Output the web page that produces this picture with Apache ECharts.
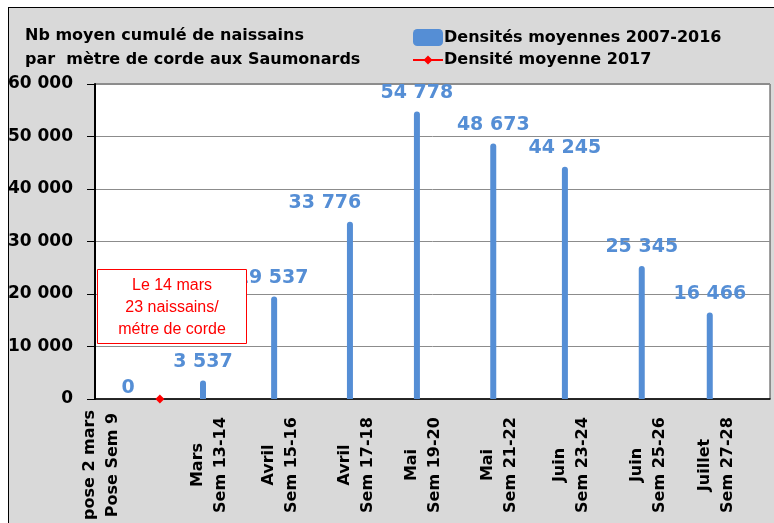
<!DOCTYPE html>
<html>
<head>
<meta charset="utf-8">
<script src="https://cdn.jsdelivr.net/npm/echarts@6/dist/echarts.min.js"></script>
<style>
  html, body { margin: 0; padding: 0; background: #fff; overflow: hidden; }
  #fond { position: absolute; left: 8px; top: 7px; width: 780px; height: 530px;
          background: #d9d9d9; border: 1px solid #000; }
  #main { position: absolute; left: 0; top: 0; width: 774px; height: 523px; }
</style>
</head>
<body>
<div id="fond"></div>
<div id="main"></div>
<script>
// étiquettes de l'axe des x (périodes)
var periodes = [
  'pose 2 mars\nPose Sem 9',
  'Mars\nSem 13-14',
  'Avril\nSem 15-16',
  'Avril\nSem 17-18',
  'Mai\nSem 19-20',
  'Mai\nSem 21-22',
  'Juin\nSem 23-24',
  'Juin\nSem 25-26',
  'Juillet\nSem 27-28'
];
// position des étiquettes sur l'axe (jours depuis l'origine de l'axe)
var joursEtiquettes = [1.2, 22, 35.7, 50.3, 63.2, 77.9, 91.7, 106.5, 119.6];
// position des barres (jours)
var joursMoyennes = [6.4, 20.8, 34.5, 49.1, 62, 76.7, 90.5, 105.3, 118.4];
// Densités moyennes 2007-2016
var moyennes = [0, 3537, 19537, 33776, 54778, 48673, 44245, 25345, 16466];
// Densité moyenne 2017 (14 mars)
var jours2017 = [12.5];
var valeurs2017 = [23];

var fontTxt = 'DejaVu Sans';
var bleu = '#558ed5';

function espaceMilliers(v) {
  return String(Math.round(v)).replace(/\B(?=(\d{3})+(?!\d))/g, ' ');
}

var myChart = echarts.init(document.getElementById('main'));
var option;

option = {
  backgroundColor: 'transparent',
  animation: false,
  title: {
    text: 'Nb moyen cumulé de naissains\npar  mètre de corde aux Saumonards',
    left: 20,
    top: 19,
    textStyle: {
      fontFamily: fontTxt,
      fontSize: 16,
      fontWeight: 'bold',
      color: '#000',
      lineHeight: 24
    }
  },
  legend: {
    orient: 'vertical',
    left: 408,
    top: 24,
    itemWidth: 30,
    itemHeight: 17,
    itemGap: 6,
    textStyle: {
      fontFamily: fontTxt,
      fontSize: 16,
      fontWeight: 'bold',
      color: '#000',
      padding: [0, 0, 0, -4]
    },
    data: [
      { name: 'Densités moyennes 2007-2016', icon: 'roundRect' },
      {
        name: 'Densité moyenne 2017',
        // trait rouge + petit losange
        icon: 'path://M0,3.4L30,3.4L30,5.6L0,5.6Z M15,0L19.5,4.5L15,9L10.5,4.5Z'
      }
    ]
  },
  grid: {
    left: 95,
    right: 4,
    top: 84,
    bottom: 123,
    show: true,
    backgroundColor: '#fff',
    borderColor: '#404040',
    borderWidth: 1
  },
  xAxis: {
    type: 'value',
    min: 0,
    max: 130,
    splitLine: { show: false },
    axisLine: { lineStyle: { color: '#000', width: 1.5 } },
    axisTick: { show: false },
    axisLabel: {
      customValues: joursEtiquettes,
      rotate: 90,
      align: 'center',
      verticalAlign: 'middle',
      margin: 66,
      lineHeight: 23,
      fontFamily: fontTxt,
      fontSize: 16,
      fontWeight: 'bold',
      color: '#000',
      formatter: function (v) {
        var i = joursEtiquettes.indexOf(v);
        return i >= 0 ? periodes[i] : '';
      }
    }
  },
  yAxis: {
    type: 'value',
    min: 0,
    max: 60000,
    interval: 10000,
    axisLine: { show: true, lineStyle: { color: '#000', width: 2 } },
    axisTick: { show: true, inside: false, length: 8, lineStyle: { color: '#000' } },
    splitLine: { lineStyle: { color: '#8c8c8c', width: 1 } },
    axisLabel: {
      margin: 22,
      fontFamily: fontTxt,
      fontSize: 17,
      fontWeight: 'bold',
      color: '#000',
      formatter: function (v) { return espaceMilliers(v); }
    }
  },
  // encadré rouge de l'annotation 2017
  graphic: [
    {
      type: 'group',
      left: 97,
      top: 269,
      z: 100,
      children: [
        {
          type: 'rect',
          z: 100,
          shape: { x: 0, y: 0, width: 149, height: 74 },
          style: { fill: '#fff', stroke: '#ff0000', lineWidth: 1 }
        },
        {
          type: 'text',
          z: 101,
          x: 74.5,
          y: 38,
          style: {
            text: 'Le 14 mars\n23 naissains/\nmétre de corde',
            fill: '#ff0000',
            font: '16px "Liberation Sans"',
            lineHeight: 22,
            align: 'center',
            verticalAlign: 'middle'
          }
        }
      ]
    }
  ],
  series: [
    {
      name: 'Densités moyennes 2007-2016',
      type: 'bar',
      barWidth: 6,
      z: 2,
      itemStyle: { color: bleu, borderRadius: [3, 3, 0, 0] },
      label: {
        show: true,
        position: 'top',
        distance: 9,
        fontFamily: fontTxt,
        fontSize: 19,
        fontWeight: 'bold',
        color: bleu,
        formatter: function (p) { return espaceMilliers(p.value[1]); }
      },
      data: joursMoyennes.map(function (j, i) {
        var d = { value: [j, moyennes[i]] };
        if (moyennes[i] === 33776) d.label = { offset: [-25, 0] };
        if (moyennes[i] === 19537) d.label = { offset: [-2, 0] };
        if (moyennes[i] === 0) d.label = { offset: [0, 8] };
        return d;
      })
    },
    {
      name: 'Densité moyenne 2017',
      type: 'line',
      symbol: 'diamond',
      symbolSize: 9,
      itemStyle: { color: '#ff0000' },
      lineStyle: { color: '#ff0000', width: 2 },
      z: 5,
      data: jours2017.map(function (j, i) { return [j, valeurs2017[i]]; })
    }
  ]
};

option && myChart.setOption(option);
</script>
</body>
</html>
